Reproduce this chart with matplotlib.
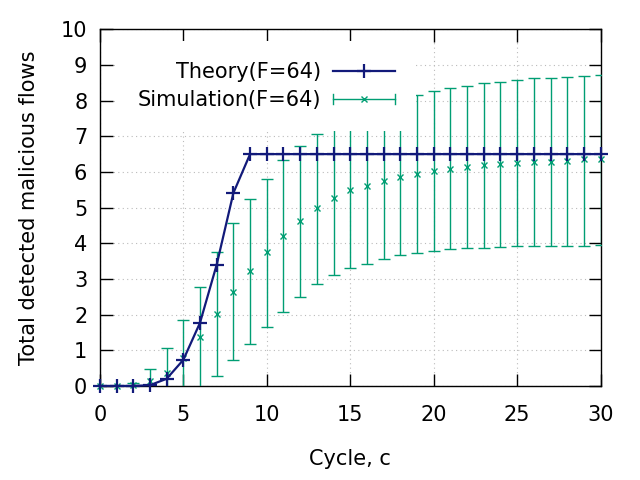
import numpy as np
import matplotlib
matplotlib.use("Agg")
import matplotlib.pyplot as plt
from matplotlib.lines import Line2D
from matplotlib.legend_handler import HandlerBase

cycles = list(range(0, 31))

theory = [0, 0, 0, 0.02, 0.2, 0.73, 1.77, 3.4, 5.41] + [6.5] * 22

sim_mean = [0, 0, 0.03, 0.14, 0.35, 0.79, 1.38, 2.02, 2.63, 3.21, 3.75,
            4.20, 4.62, 4.98, 5.26, 5.49, 5.60, 5.74, 5.86, 5.94, 6.02,
            6.08, 6.14, 6.20, 6.22, 6.25, 6.29, 6.29, 6.32, 6.36, 6.36]
sim_low = [0, 0, -0.02, -0.19, -0.34, -0.25, -0.05, 0.28, 0.73, 1.18, 1.65,
           2.07, 2.50, 2.85, 3.10, 3.30, 3.41, 3.55, 3.66, 3.72, 3.78,
           3.83, 3.86, 3.86, 3.89, 3.92, 3.92, 3.93, 3.93, 3.93, 3.95]
sim_high = [0, 0, 0.07, 0.47, 1.06, 1.84, 2.77, 3.76, 4.56, 5.25, 5.81,
            6.33, 6.74, 7.07, 7.42, 7.68, 7.79, 7.93, 8.06, 8.17, 8.26,
            8.34, 8.42, 8.49, 8.53, 8.57, 8.63, 8.63, 8.65, 8.68, 8.71]

navy = "#121a7a"
green = "#009e73"
fs = 15

plt.rcParams["font.family"] = ["DejaVu Sans"]


class ErrKeyHandler(HandlerBase):
    def create_artists(self, legend, orig, xdescent, ydescent, width, height, fontsize, trans):
        y = height / 2 - ydescent
        x0, x1 = -xdescent, -xdescent + width
        h = 3.5
        arts = [Line2D([x0, x1], [y, y], color=green, lw=1.0),
                Line2D([x0, x0], [y - h, y + h], color=green, lw=1.0),
                Line2D([x1, x1], [y - h, y + h], color=green, lw=1.0),
                Line2D([(x0 + x1) / 2], [y], color=green, marker="x", ms=4.5, mew=1.0, ls="none")]
        for a in arts:
            a.set_transform(trans)
        return arts


fig = plt.figure(figsize=(6.4, 4.8), dpi=100)
ax = fig.add_axes([0.156, 0.196, 0.7825, 0.743])

x = np.array(cycles)
mean = np.array(sim_mean)
low = np.array(sim_low)
high = np.array(sim_high)

ax.errorbar(x, mean, yerr=[mean - low, high - mean], fmt="none", ecolor=green,
            elinewidth=1.0, capsize=4, capthick=1.0, zorder=3)
ax.plot(x, mean, ls="none", marker="x", ms=5, mew=1.0, color=green, zorder=3, clip_on=False)
theory_line, = ax.plot(x, theory, color=navy, lw=1.6, marker="+", ms=10, mew=1.6,
                       zorder=4, clip_on=False)

ax.set_xlim(0, 30)
ax.set_ylim(0, 10)
ax.set_xticks(range(0, 31, 5))
ax.set_yticks(range(0, 11))
ax.grid(True, color="#bbbbbb", ls=(0, (1, 3)), lw=0.8)
ax.set_axisbelow(True)
ax.tick_params(direction="in", length=9, width=1, top=True, right=True, labelsize=fs)
ax.tick_params(axis="x", pad=14)
ax.tick_params(axis="y", pad=9)
for s in ax.spines.values():
    s.set_linewidth(1.0)

ax.set_xlabel("Cycle, c", fontsize=fs, labelpad=17)
ax.set_ylabel("Total detected malicious flows", fontsize=fs, labelpad=16)

sim_handle = Line2D([], [], color=green)
leg = ax.legend([theory_line, sim_handle], ["Theory(F=64)", "Simulation(F=64)"],
                handler_map={sim_handle: ErrKeyHandler()},
                loc="upper right", bbox_to_anchor=(0.631, 0.9666), borderaxespad=0,
                markerfirst=False, fontsize=fs, handlelength=3.0, handletextpad=0.55,
                labelspacing=0.4, borderpad=1.0, frameon=True, fancybox=False,
                facecolor="white", edgecolor="none", framealpha=1.0)
leg.set_zorder(5)

fig.savefig("out.png", dpi=100)
